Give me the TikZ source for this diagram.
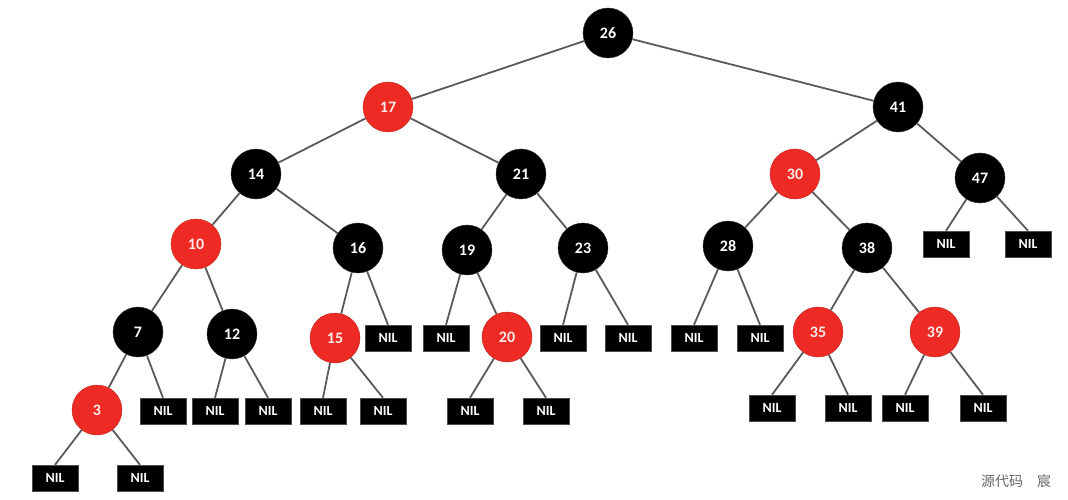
\documentclass[tikz,border=0pt]{standalone}
\usepackage{fontspec}
\setmainfont{Carlito}
\newfontfamily\cjk{Noto Sans CJK SC}
\usepackage{tikz}

\definecolor{rbred}{HTML}{EE2A24}
\definecolor{rbedge}{HTML}{5A5A5A}

\begin{document}
\begin{tikzpicture}[x=1pt,y=-1pt]
     \tikzstyle{blk}=[circle, fill=black, draw=black!80, minimum size=50pt, inner sep=0pt, text=white, font=\fontsize{16}{18}\selectfont\bfseries]
     \tikzstyle{red}=[circle, fill=rbred, draw=rbred!80!black, minimum size=50pt, inner sep=0pt, text=white!90!rbred, font=\fontsize{16}{18}\selectfont\bfseries]
     \tikzstyle{nil}=[rectangle, fill=black, draw=black!70, minimum width=46pt, minimum height=26pt, inner sep=0pt, text=white, font=\fontsize{14}{16}\selectfont\bfseries]
     \tikzstyle{edge}=[rbedge, line width=1.8pt]

     \useasboundingbox (0,0) rectangle (1068,500);

     % inner nodes
     \node[blk] (N26) at (608,33) {26};
     \node[red] (N17) at (388,107) {17};
     \node[blk] (N41) at (898,107) {41};
     \node[blk] (N14) at (256,174) {14};
     \node[blk] (N21) at (521,174) {21};
     \node[red] (N30) at (795,174) {30};
     \node[blk] (N47) at (980,178) {47};
     \node[red] (N10) at (196,244) {10};
     \node[blk] (N16) at (358,248) {16};
     \node[blk] (N19) at (467,250) {19};
     \node[blk] (N23) at (583,248) {23};
     \node[blk] (N28) at (728,246) {28};
     \node[blk] (N38) at (867,248) {38};
     \node[blk] (N7) at (138,332) {7};
     \node[blk] (N12) at (232,334) {12};
     \node[red] (N15) at (335,338) {15};
     \node[red] (N20) at (507,337) {20};
     \node[red] (N35) at (818,332) {35};
     \node[red] (N39) at (935,332) {39};
     \node[red] (N3) at (97,410) {3};

     % leaves
     \node[nil] (L47a) at (946,244) {NIL};
     \node[nil] (L47b) at (1028,244) {NIL};
     \node[nil] (L16b) at (388,338) {NIL};
     \node[nil] (L19a) at (446,338) {NIL};
     \node[nil] (L23a) at (563,338) {NIL};
     \node[nil] (L23b) at (628,338) {NIL};
     \node[nil] (L28a) at (694,338) {NIL};
     \node[nil] (L28b) at (760,338) {NIL};
     \node[nil] (L7b) at (163,411) {NIL};
     \node[nil] (L12a) at (215,411) {NIL};
     \node[nil] (L12b) at (268,411) {NIL};
     \node[nil] (L15a) at (323,411) {NIL};
     \node[nil] (L15b) at (383,411) {NIL};
     \node[nil] (L20a) at (470,411) {NIL};
     \node[nil] (L20b) at (546,411) {NIL};
     \node[nil] (L35a) at (772,408) {NIL};
     \node[nil] (L35b) at (848,408) {NIL};
     \node[nil] (L39a) at (905,408) {NIL};
     \node[nil] (L39b) at (983,408) {NIL};
     \node[nil] (L3a) at (55,478) {NIL};
     \node[nil] (L3b) at (140,478) {NIL};

     % edges
     \draw[edge] (N26) -- (N17);
     \draw[edge] (N26) -- (N41);
     \draw[edge] (N17) -- (N14);
     \draw[edge] (N17) -- (N21);
     \draw[edge] (N41) -- (N30);
     \draw[edge] (N41) -- (N47);
     \draw[edge] (N14) -- (N10);
     \draw[edge] (N14) -- (N16);
     \draw[edge] (N21) -- (N19);
     \draw[edge] (N21) -- (N23);
     \draw[edge] (N30) -- (N28);
     \draw[edge] (N30) -- (N38);
     \draw[edge] (N47) -- (L47a.north);
     \draw[edge] (N47) -- (L47b.north);
     \draw[edge] (N10) -- (N7);
     \draw[edge] (N10) -- (N12);
     \draw[edge] (N16) -- (N15);
     \draw[edge] (N16) -- (L16b.north);
     \draw[edge] (N19) -- (L19a.north);
     \draw[edge] (N19) -- (N20);
     \draw[edge] (N23) -- (L23a.north);
     \draw[edge] (N23) -- (L23b.north);
     \draw[edge] (N28) -- (L28a.north);
     \draw[edge] (N28) -- (L28b.north);
     \draw[edge] (N38) -- (N35);
     \draw[edge] (N38) -- (N39);
     \draw[edge] (N7) -- (N3);
     \draw[edge] (N7) -- (L7b.north);
     \draw[edge] (N12) -- (L12a.north);
     \draw[edge] (N12) -- (L12b.north);
     \draw[edge] (N15) -- (L15a.north);
     \draw[edge] (N15) -- (L15b.north);
     \draw[edge] (N20) -- (L20a.north);
     \draw[edge] (N20) -- (L20b.north);
     \draw[edge] (N35) -- (L35a.north);
     \draw[edge] (N35) -- (L35b.north);
     \draw[edge] (N39) -- (L39a.north);
     \draw[edge] (N39) -- (L39b.north);
     \draw[edge] (N3) -- (L3a.north);
     \draw[edge] (N3) -- (L3b.north);

     \node[text=black!60, font=\cjk\fontsize{14}{16}\selectfont] (mark) at (1016,481) {源代码\hspace{14pt}宸};
\end{tikzpicture}
\end{document}
